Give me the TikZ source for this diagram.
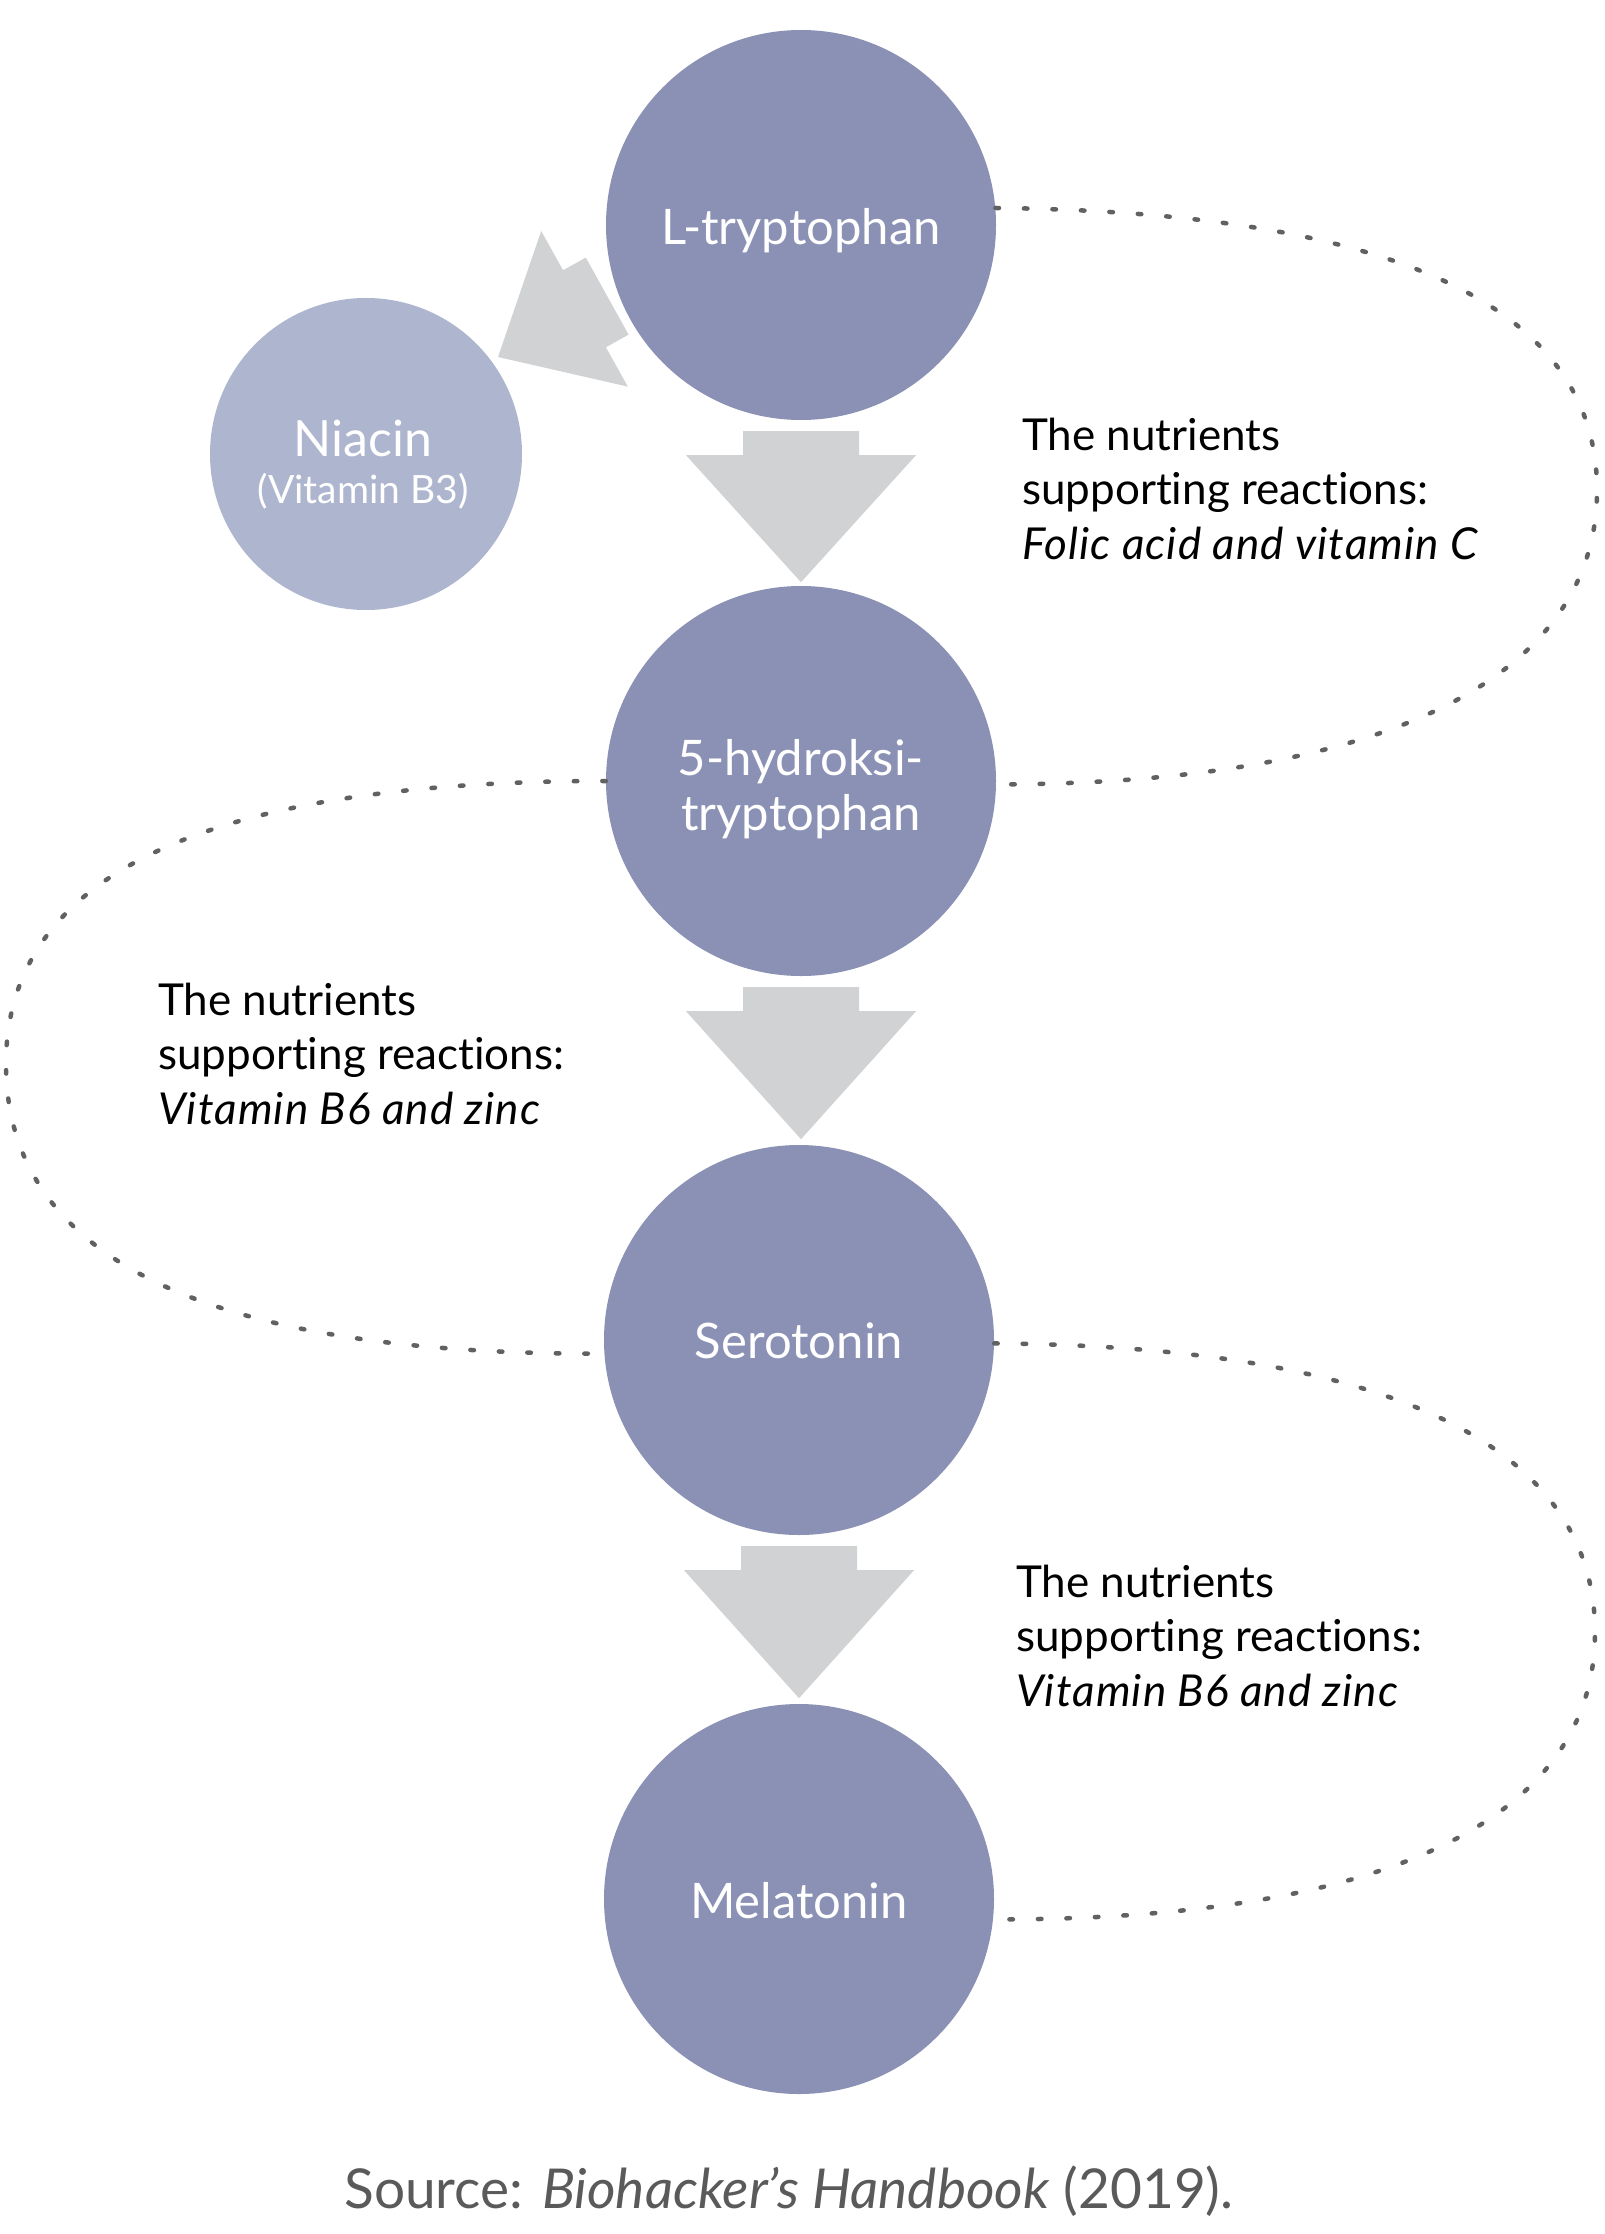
\documentclass[tikz,border=0pt]{standalone}
\usepackage{fontspec}
\setmainfont{Lato}[Ligatures=NoCommon]
\usetikzlibrary{calc}
\definecolor{circ}{HTML}{8B91B5}
\definecolor{niac}{HTML}{AEB5CF}
\definecolor{arr}{HTML}{D1D2D4}
\definecolor{dots}{HTML}{616161}
\definecolor{src}{HTML}{5A5A5A}
\newcommand{\itnote}[1]{{\itshape\addfontfeature{LetterSpace=2.5}#1}}
\begin{document}
\begin{tikzpicture}[x=1pt,y=-1pt,
  stage/.style={circle, fill=circ, draw=none, minimum size=390pt, inner sep=0pt},
  niacinc/.style={circle, fill=niac, draw=none, minimum size=312pt, inner sep=0pt},
  clabel/.style={text=white, font=\fontsize{49}{55}\selectfont, inner sep=0pt, anchor=base},
  note/.style={font=\fontsize{44}{54.5}\selectfont, inner sep=0pt, anchor=base west, text=black},
  blockarrow/.style={fill=arr, draw=none},
  dotline/.style={draw=dots, line width=4.5pt, line cap=round, dash pattern=on 3.5pt off 25pt},
]
\useasboundingbox (0,0) rectangle (1604,2234);
\fill[white] (0,0) rectangle (1604,2234);

% circles
\node[stage] (lt) at (801,225) {};
\node[stage] (ht) at (801,781) {};
\node[stage] (se) at (799,1340) {};
\node[stage] (me) at (799,1899) {};
\node[niacinc] (ni) at (366,454) {};

% block arrows
\fill[blockarrow, shift={(lt.south)}] (-58,11) -- (58,11) -- (58,35) -- (115,35) -- (0,162) -- (-115,35) -- (-58,35) -- cycle;
\fill[blockarrow, shift={(ht.south)}] (-58,11) -- (58,11) -- (58,35) -- (115,35) -- (0,163) -- (-115,35) -- (-58,35) -- cycle;
\fill[blockarrow, shift={(se.south)}] (-58,11) -- (58,11) -- (58,35) -- (115,35) -- (0,163) -- (-115,35) -- (-58,35) -- cycle;
\fill[blockarrow] (585.8,257.6) -- (563.1,270.3) -- (541.2,231.0) -- (498,357) -- (627.8,386.6) -- (605.9,347.3) -- (628.6,334.6) -- cycle;

% dotted loops
\coordinate (r1) at (1597,490);
\coordinate (l1) at (6,1064);
\coordinate (r2) at (1595,1632);
\draw[dotline] (lt.5) .. controls (1380,212) and (1597,300) .. (r1) .. controls (1597,680) and (1380,784) .. (ht.-1);
\draw[dotline] (ht.west) .. controls (200,781) and (6,878) .. (l1) .. controls (6,1255) and (200,1355) .. (se.184);
\draw[dotline] (se.-1) .. controls (1380,1346) and (1595,1442) .. (r2) .. controls (1595,1822) and (1380,1920) .. (me.-6);

% circle labels
\node[clabel] (ltl) at ($(lt.center)+(0,20)$) {L-tryptophan};
\node[clabel] (htl) at ($(ht.center)+(0,-6)$) {\vtop{\hbox to 360pt{\hfil 5-hydroksi-\hfil}\hbox to 360pt{\hfil tryptophan\hfil}}};
\node[clabel] (sel) at ($(se.center)+(0,18)$) {Serotonin};
\node[clabel] (mel) at ($(me.center)+(0,19)$) {Melatonin};
\node[clabel, font=\fontsize{50}{56}\selectfont] (nil) at (363,456) {Niacin};
\node[clabel, font=\fontsize{39}{44}\selectfont] (nil2) at (363,503) {(Vitamin B3)};

% notes
\node[note] (n1) at (1022,450) {\vtop{\hbox{The nutrients}\hbox{supporting reactions:}\hbox{\itnote{Folic acid and vitamin C}}}};
\node[note] (n2) at (158,1015) {\vtop{\hbox{The nutrients}\hbox{supporting reactions:}\hbox{\itnote{Vitamin B6 and zinc}}}};
\node[note] (n3) at (1016,1597) {\vtop{\hbox{The nutrients}\hbox{supporting reactions:}\hbox{\itnote{Vitamin B6 and zinc}}}};

% source
\node[anchor=base, inner sep=0pt, text=src, font=\fontsize{55}{62}\selectfont] (srcl) at (789,2208) {Source: \textit{Biohacker’s Handbook} (2019).};
\end{tikzpicture}
\end{document}
